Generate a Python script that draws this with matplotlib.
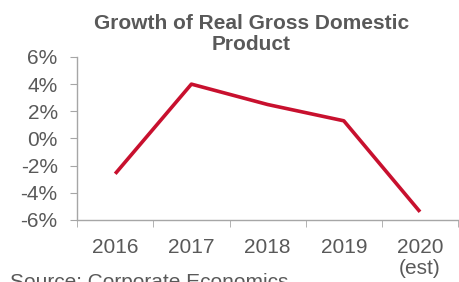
import matplotlib
matplotlib.use("Agg")
import matplotlib.pyplot as plt

years = ["2016", "2017", "2018", "2019", "2020\n(est)"]
growth = [-2.6, 4.0, 2.5, 1.3, -5.4]
yticks = [-6, -4, -2, 0, 2, 4, 6]

GRAY = "#595959"
SPINE = "#a6a6a6"
RED = "#c8102e"

plt.rcParams["font.family"] = ["Liberation Sans", "DejaVu Sans"]

fig = plt.figure(figsize=(4.59, 2.82), dpi=100)
ax = fig.add_axes([0.168, 0.22, 0.83, 0.578])

x = list(range(len(years)))
ax.plot(x, growth, color=RED, linewidth=2.6, solid_capstyle="butt")

ax.set_xlim(-0.5, len(years) - 0.5)
ax.set_ylim(-6, 6)
ax.set_yticks(yticks)
ax.set_yticklabels([f"{v}%" for v in yticks])
ax.set_xticks(x)
ax.set_xticklabels(years)
ax.set_xticks([i - 0.5 for i in range(len(years) + 1)], minor=True)

for s in ["top", "right"]:
    ax.spines[s].set_visible(False)
for s in ["left", "bottom"]:
    ax.spines[s].set_color(SPINE)
    ax.spines[s].set_linewidth(1)

ax.tick_params(axis="y", colors=SPINE, labelcolor=GRAY, labelsize=15, length=5, pad=9)
ax.tick_params(axis="x", which="major", length=0, labelcolor=GRAY, labelsize=15, pad=13)
ax.tick_params(axis="x", which="minor", colors=SPINE, length=5)
for lbl in ax.get_xticklabels():
    lbl.set_linespacing(1.1)

fig.text(0.547, 0.88, "Growth of Real Gross Domestic\nProduct", ha="center", va="center",
         fontsize=15, fontweight="bold", color=GRAY, linespacing=1.15)
fig.text(0.022, 0.033, "Source: Corporate Economics", ha="left", va="top",
         fontsize=15, color=GRAY)

fig.savefig("out.png", dpi=100)
